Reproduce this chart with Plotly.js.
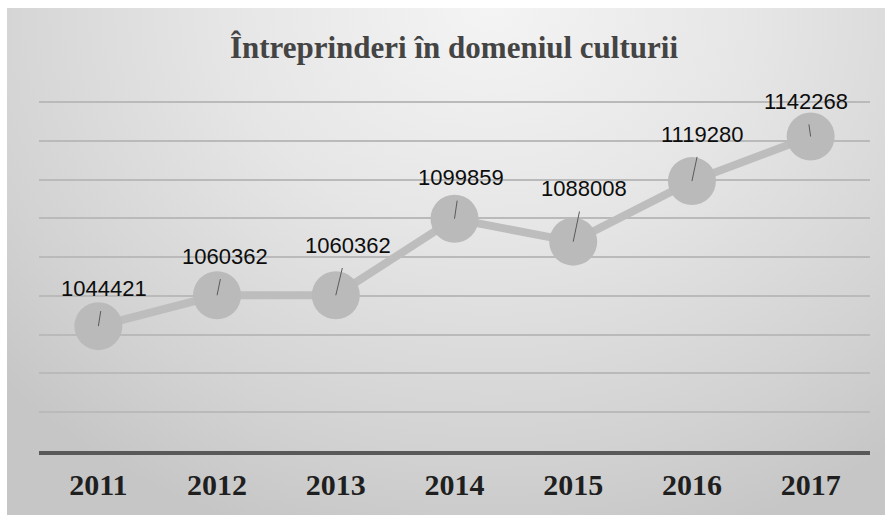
<!DOCTYPE html>
<html>
<head>
<meta charset="utf-8">
<script src="https://cdn.plot.ly/plotly-3.0.1.min.js"></script>
<style>
  body { margin: 0; background: #fff; }
  #wrap { position: relative; width: 891px; height: 515px; }
  #bg {
    position: absolute; left: 7px; top: 8px; right: 6px; bottom: 0;
    background: radial-gradient(ellipse 75% 110% at 55% 0%, #f4f4f4 0%, #e6e6e6 40%, #d2d2d2 80%, #c6c6c6 100%);
  }
  #chart { position: absolute; left: 0; top: 0; width: 891px; height: 515px; }
</style>
</head>
<body>
<div id="wrap">
  <div id="bg"></div>
  <div id="chart"></div>
</div>
<script>
// values
const years = ['2011', '2012', '2013', '2014', '2015', '2016', '2017'];
const firms = [1044421, 1060362, 1060362, 1099859, 1088008, 1119280, 1142268];

// where each data label sits relative to its point (px)
const labelDx = [6, 8, 12, 6, 11, 10, -5];
const labelDy = [-38, -39, -50, -41, -53, -47, -35];

const main = () => {
  let trace = {
    x: years,
    y: firms,
    type: 'scatter',
    mode: 'lines+markers',
    line: { color: '#bdbdbd', width: 8 },
    marker: { size: 48, color: '#bababa' },
    hoverinfo: 'x+y'
  };

  // annotation x on a category axis: use the category index
  let labels = years.map((yr, i) => ({
    x: i,
    y: firms[i],
    xref: 'x', yref: 'y',
    text: String(firms[i]),
    showarrow: true,
    arrowhead: 0,
    arrowwidth: 1,
    arrowcolor: '#5a5a5a',
    startstandoff: 9,
    ax: labelDx[i],
    ay: labelDy[i],
    font: { family: 'Liberation Sans, Arial, sans-serif', size: 22, color: '#0d0d0d' }
  }));

  let layout = {
    width: 891,
    height: 515,
    margin: { l: 39, r: 21, t: 101, b: 64 },
    paper_bgcolor: 'rgba(0,0,0,0)',
    plot_bgcolor: 'rgba(0,0,0,0)',
    showlegend: false,
    title: {
      text: 'Întreprinderi în domeniul culturii',
      font: { family: 'Liberation Serif, Times New Roman, serif', size: 31, color: '#444444', weight: 'bold' },
      x: 0.5095,
      xanchor: 'center',
      y: 0.909,
      yanchor: 'middle'
    },
    xaxis: {
      type: 'category',
      range: [-0.5, years.length - 0.5],
      showgrid: false,
      showline: true,
      linecolor: '#595959',
      linewidth: 4,
      ticks: '',
      ticklabelstandoff: 4,
      tickfont: { family: 'Liberation Serif, Times New Roman, serif', size: 30, color: '#1f1f1f', weight: 'bold' }
    },
    yaxis: {
      range: [980000, 1160600],
      dtick: 20000,
      showticklabels: false,
      showgrid: true,
      gridcolor: '#bababa',
      gridwidth: 2,
      zeroline: false
    },
    annotations: labels
  };

  Plotly.newPlot('chart', [trace], layout, { displayModeBar: false });
};

document.addEventListener('DOMContentLoaded', main, false);
</script>
</body>
</html>
